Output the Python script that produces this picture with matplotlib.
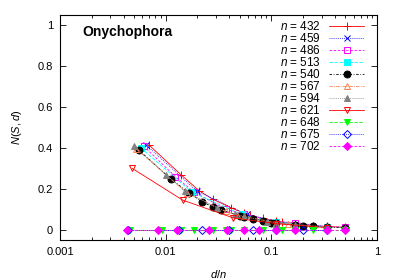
import matplotlib
matplotlib.use('Agg')
import matplotlib.pyplot as plt
from matplotlib.ticker import LogLocator, NullFormatter

plt.rcParams['font.family'] = ['Liberation Sans', 'DejaVu Sans']
plt.rcParams['mathtext.fontset'] = 'custom'
plt.rcParams['mathtext.it'] = 'Liberation Sans:italic'
plt.rcParams['mathtext.rm'] = 'Liberation Sans'

# sequence lengths n and the d values (divisors, multiples of 3) plotted as d/n
n_432, d_432 = 432, [3, 6, 9, 12, 18, 24, 27, 36, 48, 54, 72, 108, 144, 216]
y_432 = [0.415, 0.27, 0.19, 0.15, 0.107, 0.08, 0.072, 0.055, 0.042, 0.038, 0.03, 0.02, 0.016, 0.012]

n_459, d_459 = 459, [3, 9, 27, 51, 153]
y_459 = [0.415, 0.19, 0.075, 0.04, 0.015]

n_486, d_486 = 486, [3, 6, 9, 18, 27, 54, 81, 162, 243]
y_486 = [0.41, 0.26, 0.185, 0.1, 0.075, 0.04, 0.035, 0.015, 0.012]

n_513, d_513 = 513, [3, 9, 27, 57, 171]
y_513 = [0.40, 0.185, 0.075, 0.038, 0.014]

n_540, d_540 = 540, [3, 6, 9, 12, 15, 18, 27, 30, 36, 45, 54, 60, 90, 108, 135, 180, 270]
y_540 = [0.39, 0.25, 0.18, 0.137, 0.112, 0.098, 0.068, 0.063, 0.054, 0.044, 0.034,
         0.032, 0.024, 0.02, 0.016, 0.013, 0.01]

n_567, d_567 = 567, [3, 9, 21, 27, 63, 81, 189]
y_567 = [0.395, 0.18, 0.09, 0.07, 0.035, 0.028, 0.013]

n_594, d_594 = 594, [3, 6, 9, 18, 27, 33, 54, 66, 99, 198, 297]
y_594 = [0.41, 0.27, 0.19, 0.105, 0.075, 0.065, 0.04, 0.034, 0.025, 0.013, 0.01]

n_621, d_621 = 621, [3, 9, 27, 69, 207]
y_621 = [0.30, 0.145, 0.058, 0.03, 0.01]

n_648, d_648 = 648, [3, 6, 9, 12, 18, 24, 27, 36, 54, 72, 81, 108, 162, 216, 324]
y_648 = [0] * 15

n_675, d_675 = 675, [3, 9, 15, 27, 45, 75, 135, 225]
y_675 = [0] * 8

n_702, d_702 = 702, [3, 6, 9, 18, 27, 39, 54, 78, 117, 234, 351]
y_702 = [0] * 11

series = [
    (n_432, d_432, y_432, dict(color='#ff0000', ls='-', marker='+', mfc='none', ms=6)),
    (n_459, d_459, y_459, dict(color='#0000ff', ls=(0, (1, 1.5)), marker='x', mfc='none', ms=5)),
    (n_486, d_486, y_486, dict(color='#ff00ff', ls=(0, (3, 2)), marker='s', mfc='none', ms=5)),
    (n_513, d_513, y_513, dict(color='#00ffff', ls=(0, (4, 2)), marker='s', ms=5)),
    (n_540, d_540, y_540, dict(color='#000000', ls=(0, (3, 2, 1, 2)), marker='o', ms=5)),
    (n_567, d_567, y_567, dict(color='#ff7f50', ls=(0, (4, 1.5, 1, 1.5)), marker='^', mfc='none', ms=5)),
    (n_594, d_594, y_594, dict(color='#808080', ls=(0, (1, 1.5)), marker='^', ms=5)),
    (n_621, d_621, y_621, dict(color='#ff0000', ls='-', marker='v', mfc='none', ms=5)),
    (n_648, d_648, y_648, dict(color='#00ff00', ls=(0, (4, 2)), marker='v', ms=5)),
    (n_675, d_675, y_675, dict(color='#0000ff', ls=(0, (1, 1.5)), marker='D', mfc='none', ms=4)),
    (n_702, d_702, y_702, dict(color='#ff00ff', ls=(0, (3, 2)), marker='D', ms=4)),
]

fig = plt.figure(figsize=(4, 2.8), dpi=100)
ax = fig.add_axes([0.15, 0.143, 0.7925, 0.803])

for n, d, y, st in series:
    x = [di / n for di in d]
    ax.plot(x, y, lw=0.6, mew=0.7, label='$n$ = %d' % n, **st)

ax.set_xscale('log')
ax.set_xlim(0.001, 1)
ax.set_ylim(-0.05, 1.05)
ax.set_xticks([0.001, 0.01, 0.1, 1])
ax.set_xticklabels(['0.001', '0.01', '0.1', '1'])
ax.xaxis.set_minor_locator(LogLocator(base=10, subs=range(2, 10)))
ax.xaxis.set_minor_formatter(NullFormatter())
ax.set_yticks([0, 0.2, 0.4, 0.6, 0.8, 1])
ax.set_yticklabels(['0', '0.2', '0.4', '0.6', '0.8', '1'])
ax.tick_params(which='both', direction='in', top=True, right=True, labelsize=8, pad=5)
ax.tick_params(which='major', length=4, width=0.6)
ax.tick_params(which='minor', length=2, width=0.6)
for sp in ax.spines.values():
    sp.set_linewidth(0.8)

ax.set_xlabel('$d/n$', fontsize=8, labelpad=8)
ax.set_ylabel('$N(S,d)$', fontsize=8, labelpad=10)
ax.text(0.07, 0.955, 'Onychophora', transform=ax.transAxes, fontsize=10,
        fontweight='bold', va='top', ha='left')

ax.legend(loc='upper right', fontsize=8.5, frameon=False, markerfirst=False,
          handlelength=3.0, handletextpad=0.7, labelspacing=-0.08, numpoints=1,
          borderaxespad=0.0, bbox_to_anchor=(0.975, 1.0))

fig.savefig('out.png', dpi=100)
